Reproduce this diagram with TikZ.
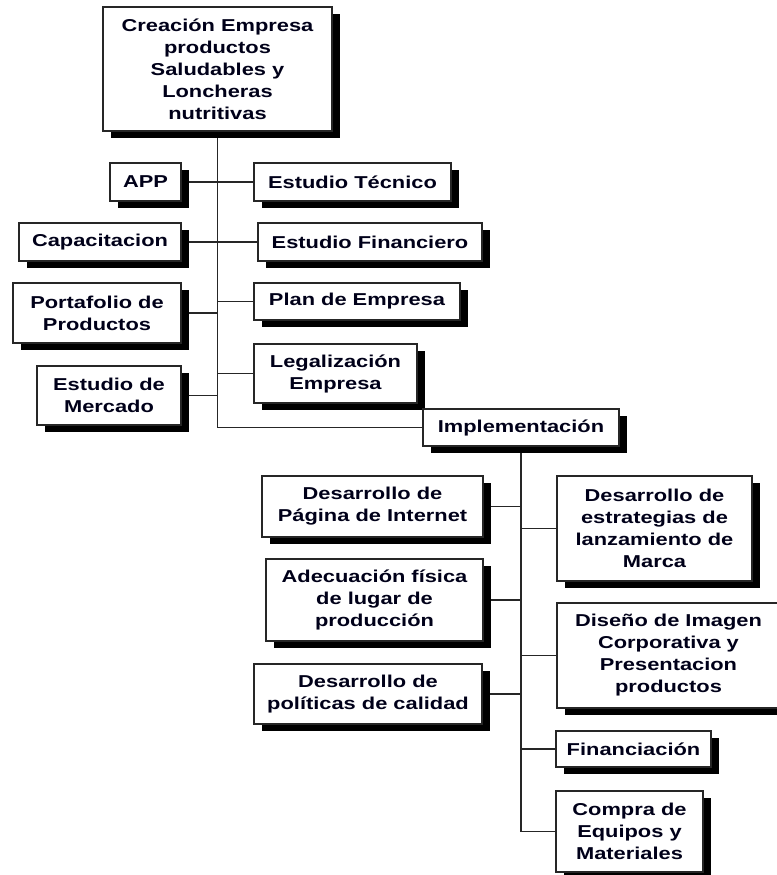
\documentclass[tikz,border=0pt]{standalone}
\usepackage{fontspec}
\setmainfont{Liberation Sans}[FakeStretch=1.27]
\usetikzlibrary{shadows,backgrounds}

\tikzset{
  box/.style={draw=black!85, line width=0.9pt, fill=white, inner sep=0pt,
    align=center, font=\fontsize{12.9pt}{16.5pt}\selectfont\bfseries,
    text=black!90!blue,
    drop shadow={shadow xshift=6pt, shadow yshift=-5.25pt, opacity=1, fill=black}},
  link/.style={draw=black!85, line width=0.9pt},
  % box size given in grid units (1 unit = 0.75pt)
  sz/.style 2 args={minimum width=#1*0.75pt, minimum height=#2*0.75pt},
}

\begin{document}
\begin{tikzpicture}[x=0.75pt, y=-0.75pt]
\useasboundingbox (0,0) rectangle (777,875);

% top level
\node[box, sz={229}{124}] (root) at (217.5,69)
  {Creación Empresa\\productos\\Saludables y\\Loncheras\\nutritivas};

\node[box, sz={71}{38}]  (app)   at (145.5,182) {APP};
\node[box, sz={197}{38}] (tec)   at (352.5,182) {Estudio Técnico};
\node[box, sz={162}{38}] (cap)   at (100,242)   {Capacitacion};
\node[box, sz={224}{38}] (fin)   at (370,242)   {Estudio Financiero};
\node[box, sz={168}{60}] (port)  at (97,313)    {Portafolio de\\Productos};
\node[box, sz={206}{37}] (plan)  at (357,301.5) {Plan de Empresa};
\node[box, sz={163}{59}] (legal) at (335.5,373.5) {Legalización\\Empresa};
\node[box, sz={144}{59}] (merc)  at (109,395.5) {Estudio de\\Mercado};
\node[box, sz={196}{37}] (impl)  at (521,427.5) {Implementación};

% implementation level
\node[box, sz={221}{61}]  (pag)  at (372.5,506.5) {Desarrollo de\\Página de Internet};
\node[box, sz={195}{105}] (estr) at (654.5,528.5) {Desarrollo de\\estrategias de\\lanzamiento de\\Marca};
\node[box, sz={217}{82}]  (adec) at (374.5,600) {Adecuación física\\de lugar de\\producción};
\node[box, sz={223}{105}] (dis)  at (668.5,655.5) {Diseño de Imagen\\Corporativa y\\Presentacion\\productos};
\node[box, sz={228}{60}]  (pol)  at (368,694) {Desarrollo de\\políticas de calidad};
\node[box, sz={155}{36}]  (fina) at (633.5,749) {Financiación};
\node[box, sz={147}{81}]  (comp) at (629.5,831.5) {Compra de\\Equipos y\\Materiales};

% connectors, drawn behind the boxes
\begin{scope}[on background layer]
  \draw[link] (root.south) -- (root.south |- impl.west) -- (impl.west);
  \foreach \n in {app,cap,port,merc}
    \draw[link] (\n.east) -- (\n.east -| root.south);
  \foreach \n in {tec,fin,plan,legal}
    \draw[link] (\n.west) -- (\n.west -| root.south);
  \draw[link] (impl.south) -- (impl.south |- comp.west) -- (comp.west);
  \foreach \n in {pag,adec,pol}
    \draw[link] (\n.east) -- (\n.east -| impl.south);
  \foreach \n in {estr,dis,fina}
    \draw[link] (\n.west) -- (\n.west -| impl.south);
\end{scope}
\end{tikzpicture}
\end{document}
